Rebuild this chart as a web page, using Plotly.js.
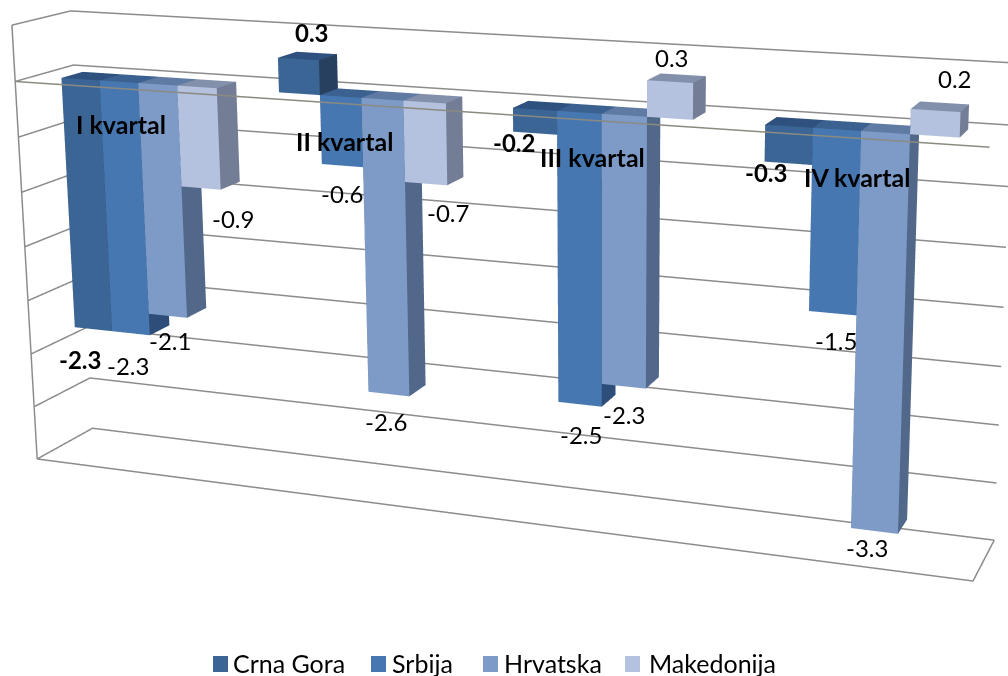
<!DOCTYPE html>
<html><head><meta charset="utf-8">
<script src="https://cdn.plot.ly/plotly-3.0.1.min.js"></script>
<style>html,body{margin:0;padding:0;background:#fff;overflow:hidden;width:1008px;height:676px}
#wrap{position:absolute;left:0;top:0;width:1008px;height:676px;overflow:hidden}
#chart{position:absolute;left:-338px;top:-746px;width:1888px;height:1888px}</style>
</head><body><div id="wrap"><div id="chart"></div></div>
<script>
const categories=['I kvartal','II kvartal','III kvartal','IV kvartal'];
const seriesNames=['Crna Gora','Srbija','Hrvatska','Makedonija'];
const crnaGora=[-2.3,0.3,-0.2,-0.3];
const srbija=[-2.3,-0.6,-2.5,-1.5];
const hrvatska=[-2.1,-2.6,-2.3,-3.3];
const makedonija=[-0.9,-0.7,0.3,0.2];
const seriesValues=[crnaGora,srbija,hrvatska,makedonija];
const frontColors=['#3A6595','#4777B1','#7E9BC8','#B4C2DF'];
const topColors=['#2E5180','#3A618F','#5F7BA3','#8290AB'];
const sideColors=['#28405F','#2E4D78','#52688A','#737E96'];
const gridTicks=[-3.5,-3,-2.5,-2,-1.5,-1,-0.5,0,0.5];
const barW=0.181,gapHalf=0.1315,catStep=1.004,depth0=0.315,depth1=0.685;
const xMin=0.5,xMax=4.5,zMin=-3.5,zMax=0.5;
const W=1888,OX=338,OY=746;
const fontFam='Lato, Carlito, sans-serif';

function cuboid(x0,x1,z0,z1,s){
  const xs=[],ys=[],zs=[],I=[],J=[],K=[],fc=[];
  const y0=depth0,y1=depth1;
  const c=[[x0,y0,z0],[x1,y0,z0],[x1,y1,z0],[x0,y1,z0],[x0,y0,z1],[x1,y0,z1],[x1,y1,z1],[x0,y1,z1]];
  c.forEach(p=>{xs.push(p[0]);ys.push(p[1]);zs.push(p[2]);});
  const quads=[[0,1,5,4,frontColors[s]],[1,2,6,5,sideColors[s]],[4,5,6,7,topColors[s]],[3,2,6,7,sideColors[s]],[0,3,7,4,sideColors[s]],[0,1,2,3,sideColors[s]]];
  quads.forEach(q=>{I.push(q[0],q[0]);J.push(q[1],q[2]);K.push(q[2],q[3]);fc.push(q[4],q[4]);});
  return {x:xs,y:ys,z:zs,i:I,j:J,k:K,fc};
}
const traces=[];
seriesValues.forEach((vals,s)=>{
  const X=[],Y=[],Z=[],I=[],J=[],K=[],F=[];
  vals.forEach((v,c)=>{
    const x0=c*catStep+0.5+gapHalf+s*barW,x1=x0+barW;
    const m=cuboid(x0,x1,Math.min(0,v),Math.max(0,v),s);
    const off=X.length;
    X.push(...m.x);Y.push(...m.y);Z.push(...m.z);
    I.push(...m.i.map(n=>n+off));J.push(...m.j.map(n=>n+off));K.push(...m.k.map(n=>n+off));F.push(...m.fc);
  });
  traces.push({type:'mesh3d',x:X,y:Y,z:Z,i:I,j:J,k:K,facecolor:F,flatshading:true,showlegend:false,showscale:false,hoverinfo:'skip',
    lighting:{ambient:1,diffuse:0,specular:0,fresnel:0,roughness:1},lightposition:{x:0,y:0,z:1000}});
});
const gx=[],gy=[],gz=[];
function seg(pts){pts.forEach(p=>{gx.push(p[0]);gy.push(p[1]);gz.push(p[2]);});gx.push(null);gy.push(null);gz.push(null);}
gridTicks.forEach(t=>seg([[xMin,0,t],[xMin,1,t],[xMax,1,t]]));
seg([[xMin,0,zMin],[xMin,0,zMax]]);
seg([[xMin,0,zMin],[xMax,0,zMin],[xMax,1,zMin]]);
traces.push({type:'scatter3d',mode:'lines',x:gx,y:gy,z:gz,line:{color:'#8C8C8C',width:3},showlegend:false,hoverinfo:'skip'});
traces.push({type:'scatter3d',mode:'lines',x:[xMin,xMax],y:[0,0],z:[0,0],line:{color:'#8A8A80',width:3},showlegend:false,hoverinfo:'skip'});

const labelFont={family:fontFam,size:24,color:'#000'};
const annotations=[];
const shiftX=[[-13,14,-21,-22],[-3,0,1,3],[2,-3,0,-7],[32,22,2,19]];
const shiftY=[[-30,27,-9,-9],[-32,-28,-30,-27],[-25,-27,-28,-17],[-30,-29,24,32]];
seriesValues.forEach((vals,s)=>vals.forEach((v,c)=>{
  const x=c*catStep+0.5+gapHalf+(s+0.5)*barW;
  annotations.push({x:x,y:depth0,z:v,text:(s==0?'<b>':'')+v.toFixed(1)+(s==0?'</b>':''),showarrow:false,font:labelFont,xshift:shiftX[s][c],yshift:shiftY[s][c]});
}));
const catShiftX=[-3,-4,1,4],catShiftY=[10,10,12,12];
categories.forEach((n,c)=>annotations.push({x:c*catStep+1,y:0,z:-0.4,text:'<b>'+n+'</b>',showarrow:false,font:{family:fontFam,size:25,color:'#000'},xshift:catShiftX[c],yshift:catShiftY[c]}));

// legend
const swatchX=[213,371,483,625],textX=[231,390,502,647];
const legendY=663;
const shapes=seriesNames.map((n,s)=>({type:'rect',xref:'paper',yref:'paper',x0:(swatchX[s]+OX)/W,x1:(swatchX[s]+15+OX)/W,y0:1-(legendY-7+OY)/W,y1:1-(legendY+9+OY)/W,fillcolor:frontColors[s],line:{width:0}}));
const legendAnn=seriesNames.map((n,s)=>({xref:'paper',yref:'paper',x:(textX[s]+OX)/W,y:1-(legendY+OY)/W,xanchor:'left',yanchor:'middle',text:n,showarrow:false,font:{family:fontFam,size:25,color:'#000'}}));

const layout={width:W,height:W,margin:{l:0,r:0,t:0,b:0,pad:0},paper_bgcolor:'#fff',showlegend:false,shapes:shapes,annotations:legendAnn,
 scene:{domain:{x:[0,1],y:[0,1]},aspectmode:'manual',aspectratio:{x:1.005,y:0.110466,z:0.46945},
  xaxis:{range:[xMin-0.01,xMax+0.01],visible:false,showspikes:false},
  yaxis:{range:[-0.01,1.01],visible:false,showspikes:false},
  zaxis:{range:[zMin-0.02,zMax+0.02],visible:false,showspikes:false},
  camera:{eye:{x:0.843,y:-2.017,z:0.575},center:{x:0.124,y:-0.004,z:0.089},up:{x:0,y:0,z:1},projection:{type:'perspective'}},
  annotations:annotations}};
Plotly.newPlot('chart',traces,layout,{displayModeBar:false,responsive:false});
</script></body></html>
